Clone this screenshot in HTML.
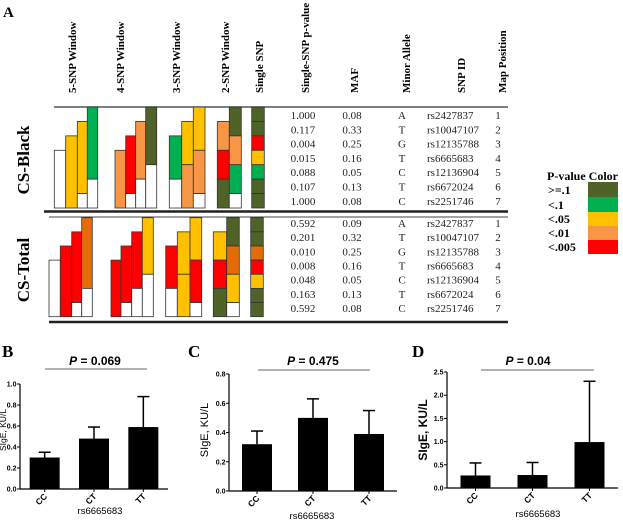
<!DOCTYPE html>
<html><head><meta charset="utf-8"><style>
body{margin:0;background:#fff;width:623px;height:523px;overflow:hidden}
svg{display:block}
.serif{font-family:"Liberation Serif",serif}
.sans{font-family:"Liberation Sans",sans-serif}
</style></head><body>
<svg id="fig" width="623" height="523" viewBox="0 0 623 523">
<text x="3" y="17" class="serif" font-weight="bold" font-size="15">A</text>
<g class="serif" font-weight="bold" font-size="11">
<text transform="translate(76,93) rotate(-90)">5-SNP Window</text>
<text transform="translate(124,93) rotate(-90)">4-SNP Window</text>
<text transform="translate(180,93) rotate(-90)">3-SNP Window</text>
<text transform="translate(229,93) rotate(-90)">2-SNP Window</text>
<text transform="translate(263,93) rotate(-90)">Single SNP</text>
<text transform="translate(309,93) rotate(-90)">Single-SNP p-value</text>
<text transform="translate(358,93) rotate(-90)">MAF</text>
<text transform="translate(410,93) rotate(-90)">Minor Allele</text>
<text transform="translate(465,93) rotate(-90)">SNP ID</text>
<text transform="translate(506,93) rotate(-90)">Map Position</text>
</g>
<text transform="translate(29,160) rotate(-90)" text-anchor="middle" class="serif" font-weight="bold" font-size="17">CS-Black</text>
<text transform="translate(29,270) rotate(-90)" text-anchor="middle" class="serif" font-weight="bold" font-size="17">CS-Total</text>
<line x1="54" y1="107" x2="508" y2="107" stroke="#555" stroke-width="1.5"/>
<line x1="44" y1="211.5" x2="508" y2="211.5" stroke="#222" stroke-width="2.5"/>
<line x1="49" y1="217" x2="508" y2="217" stroke="#444" stroke-width="1"/>
<line x1="49" y1="322" x2="508" y2="322" stroke="#222" stroke-width="2.5"/>
<g id="heat"></g>
<g id="table" class="serif" font-size="11" fill="#222"></g>
<g class="serif" font-weight="bold" font-size="12">
<text x="547" y="180">P-value Color</text>
<rect x="588" y="182" width="30" height="15" fill="#4F6228"/>
<rect x="588" y="197" width="30" height="15" fill="#00B050"/>
<rect x="588" y="212" width="30" height="14" fill="#FFC000"/>
<rect x="588" y="226" width="30" height="14" fill="#F79646"/>
<rect x="588" y="240" width="30" height="14" fill="#FF0000"/>
<text x="548" y="194">&gt;=.1</text>
<text x="548" y="209">&lt;.1</text>
<text x="548" y="223">&lt;.05</text>
<text x="548" y="237">&lt;.01</text>
<text x="548" y="251">&lt;.005</text>
</g>
<g id="charts"></g>
</svg>
<script>
const colorMap={O:"#4F6228",G:"#00B050",Y:"#FFC000",L:"#F79646",R:"#FF0000",D:"#E36C09",W:"#FFFFFF"};
const blackSegments=[
[[3,7,"W"]],[[2,7,"Y"]],[[1,6,"Y"],[6,7,"W"]],[[0,5,"G"],[5,7,"W"]],
[[3,7,"L"]],[[2,6,"R"],[6,7,"W"]],[[1,5,"L"],[5,7,"W"]],[[0,4,"O"],[4,7,"W"]],
[[2,5,"G"],[5,7,"W"]],[[1,4,"Y"],[4,7,"L"]],[[0,3,"Y"],[3,6,"L"],[6,7,"W"]],
[[1,3,"L"],[3,5,"R"],[5,7,"O"]],[[0,2,"O"],[2,4,"L"],[4,6,"G"],[6,7,"W"]],
[[0,1,"O"],[1,2,"O"],[2,3,"R"],[3,4,"Y"],[4,5,"G"],[5,6,"O"],[6,7,"O"]]];
const totalSegments=[
[[3,7,"W"]],[[2,7,"R"]],[[1,6,"R"],[6,7,"W"]],[[0,5,"D"],[5,7,"W"]],
[[3,7,"R"]],[[2,6,"R"],[6,7,"W"]],[[1,5,"R"],[5,7,"W"]],[[0,4,"Y"],[4,7,"W"]],
[[2,5,"R"],[5,7,"W"]],[[1,4,"Y"],[4,7,"Y"]],[[0,3,"Y"],[3,6,"R"],[6,7,"W"]],
[[1,3,"Y"],[3,5,"R"],[5,7,"O"]],[[0,2,"O"],[2,4,"D"],[4,6,"Y"],[6,7,"W"]],
[[0,1,"O"],[1,2,"O"],[2,3,"D"],[3,4,"R"],[4,5,"Y"],[5,6,"O"],[6,7,"O"]]];
const blackCols=[[54.3,11.4],[65.7,11.6],[77.3,10],[87.3,10.4],[115,10.7],[125.7,10],[135.7,10],[145.7,11],[169.3,12.4],[181.7,11.6],[193.3,11.7],[217.3,12],[229.3,12],[251.7,12.6]];
const totalCols=[[49,11.3],[60.3,11.4],[71.7,10],[81.7,10.6],[111,10],[121,10.7],[131.7,10.6],[142.3,11],[165.7,11.6],[177.3,12.7],[190,11.7],[213.3,13.4],[226.7,12.6],[250.7,12.6]];
const pBlack=["1.000","0.117","0.004","0.015","0.088","0.107","1.000"];
const mafBlack=["0.08","0.33","0.25","0.16","0.05","0.13","0.08"];
const pTotal=["0.592","0.201","0.010","0.008","0.048","0.163","0.592"];
const mafTotal=["0.09","0.32","0.25","0.16","0.05","0.13","0.08"];
const alleles=["A","T","G","T","C","T","C"];
const snpIds=["rs2427837","rs10047107","rs12135788","rs6665683","rs12136904","rs6672024","rs2251746"];
const mapPos=["1","2","3","4","5","6","7"];
const genotypes=["CC","CT","TT"];
const meanB=[0.30,0.48,0.59], errB=[0.35,0.59,0.88], ticksB=[0,0.2,0.4,0.6,0.8,1.0];
const meanC=[0.32,0.50,0.39], errC=[0.41,0.63,0.55], ticksC=[0,0.2,0.4,0.6,0.8];
const meanD=[0.27,0.28,0.99], errD=[0.54,0.55,2.30], ticksD=[0,0.5,1.0,1.5,2.0,2.5];
const pLabels=["0.069","0.475","0.04"];

const NS="http://www.w3.org/2000/svg";
function mk(tag,attrs,parent){const e=document.createElementNS(NS,tag);for(const k in attrs)e.setAttribute(k,attrs[k]);parent.appendChild(e);return e;}
const heat=document.getElementById('heat');
function drawHeat(segs,cols,y0,rh,grp){
  segs.forEach((col,i)=>{col.forEach(s=>{
    const r=mk('rect',{x:cols[i][0],y:y0+s[0]*rh,width:cols[i][1],height:(s[1]-s[0])*rh,fill:colorMap[s[2]],stroke:"#333","stroke-width":0.8},heat);
    
    
  });});
}
drawHeat(blackSegments,blackCols,107,14.43,'black');
drawHeat(totalSegments,totalCols,217.7,14.14,'total');
const tbl=document.getElementById('table');
function drawTable(pv,maf,y0,rh,grp){
  for(let i=0;i<7;i++){
    const y=y0+i*rh;
    const vals=[[303,pv[i],"middle"],[352,maf[i],"middle"],[402,alleles[i],"middle"],[427,snpIds[i],"start"],[498,mapPos[i],"middle"]];
    vals.forEach(v=>{const t=mk('text',{x:v[0],y:y,"text-anchor":v[2]},tbl);t.textContent=v[1];
      
      });
  }
}
drawTable(pBlack,mafBlack,119,14.3,'black');
drawTable(pTotal,mafTotal,227,14.15,'total');

const charts=document.getElementById('charts');
function barChart(o){
  const g=mk('g',{},charts);
  
  
  const max=o.ticks[o.ticks.length-1];
  const ys=v=>o.y0-(v/max)*(o.y0-o.yTop);
  const lab=mk('text',{x:o.lx,y:357,"font-family":"Liberation Serif,serif","font-weight":"bold","font-size":17},g);lab.textContent=o.letter;
  
  
  const pt=mk('text',{x:o.pcx,y:365,"text-anchor":"middle","font-family":"Liberation Sans,sans-serif","font-weight":"bold","font-size":12},g);
  pt.innerHTML='<tspan font-style="italic">P</tspan> = '+o.p;
  
  
  const pl=mk('line',{x1:o.px1,x2:o.px2,y1:o.py,y2:o.py,stroke:"#333","stroke-width":0.8},g);
  
  
  o.ticks.forEach(t=>{
    const y=ys(t);
    const tl=mk('line',{x1:o.ax-3,x2:o.ax,y1:y,y2:y,stroke:"#000","stroke-width":1},g);
    
    
    const tx=mk('text',{x:o.ax-3.5,y:y+2.5,"text-anchor":"end","font-family":"Liberation Sans,sans-serif","font-weight":"bold","font-size":7},g);
    tx.textContent=t.toFixed(1);
    
    
  });
  const ya=mk('line',{x1:o.ax,x2:o.ax,y1:o.yTop,y2:o.y0,stroke:"#000","stroke-width":1.2},g);
  
  
  const xa=mk('line',{x1:o.ax,x2:o.axEnd,y1:o.y0,y2:o.y0,stroke:"#000","stroke-width":1.2},g);
  
  
  const step=(o.axEnd-o.ax)/genotypes.length;
  genotypes.forEach((c,i)=>{
    const cx=o.ax+step*(i+0.5);
    const top=ys(o.mean[i]);
    const eb=ys(o.err[i]);
    const el=mk('line',{x1:cx,x2:cx,y1:eb,y2:top,stroke:"#000","stroke-width":1.5},g);
    
    
    const ec=mk('line',{x1:cx-6,x2:cx+6,y1:eb,y2:eb,stroke:"#000","stroke-width":1.5},g);
    
    
    const b=mk('rect',{x:cx-o.bw/2,y:top,width:o.bw,height:o.y0-top,fill:"#000"},g);
    
    
    const tk=mk('line',{x1:cx,x2:cx,y1:o.y0,y2:o.y0+3,stroke:"#000"},g);
    
    
    const xl=mk('text',{transform:`translate(${cx+3},${o.y0+8}) rotate(-45)`,"text-anchor":"end","font-family":"Liberation Sans,sans-serif","font-weight":"bold","font-size":8.5},g);
    xl.textContent=c;
    
    
  });
  const xt=mk('text',{x:o.xtx,y:o.xty,"text-anchor":"middle","font-family":"Liberation Sans,sans-serif","font-size":9.5},g);
  xt.textContent='rs6665683';
  
  
  const yt=mk('text',{transform:`translate(${o.ytx},430) rotate(-90)`,"text-anchor":"middle","font-family":"Liberation Sans,sans-serif","font-size":o.ytfs,"font-weight":o.ytw},g);
  yt.textContent='SIgE, KU/L';
  
  
}
barChart({name:'chart-b',letter:'B',lx:2,p:pLabels[0],pcx:95,px1:45,px2:147,py:369,ax:20,axEnd:168,yTop:384,y0:489,bw:30,mean:meanB,err:errB,ticks:ticksB,xtx:100,xty:514,ytx:6,ytfs:8.5,ytw:"normal"});
barChart({name:'chart-c',letter:'C',lx:188,p:pLabels[1],pcx:313,px1:258,px2:370,py:370,ax:229,axEnd:397,yTop:374,y0:491,bw:30,mean:meanC,err:errC,ticks:ticksC,xtx:312,xty:519,ytx:208,ytfs:11,ytw:"normal"});
barChart({name:'chart-d',letter:'D',lx:412,p:pLabels[2],pcx:528,px1:481,px2:594,py:370,ax:447,axEnd:618,yTop:372,y0:488,bw:30,mean:meanD,err:errD,ticks:ticksD,xtx:538,xty:517,ytx:427,ytfs:12,ytw:"bold"});
</script>
</body></html>
